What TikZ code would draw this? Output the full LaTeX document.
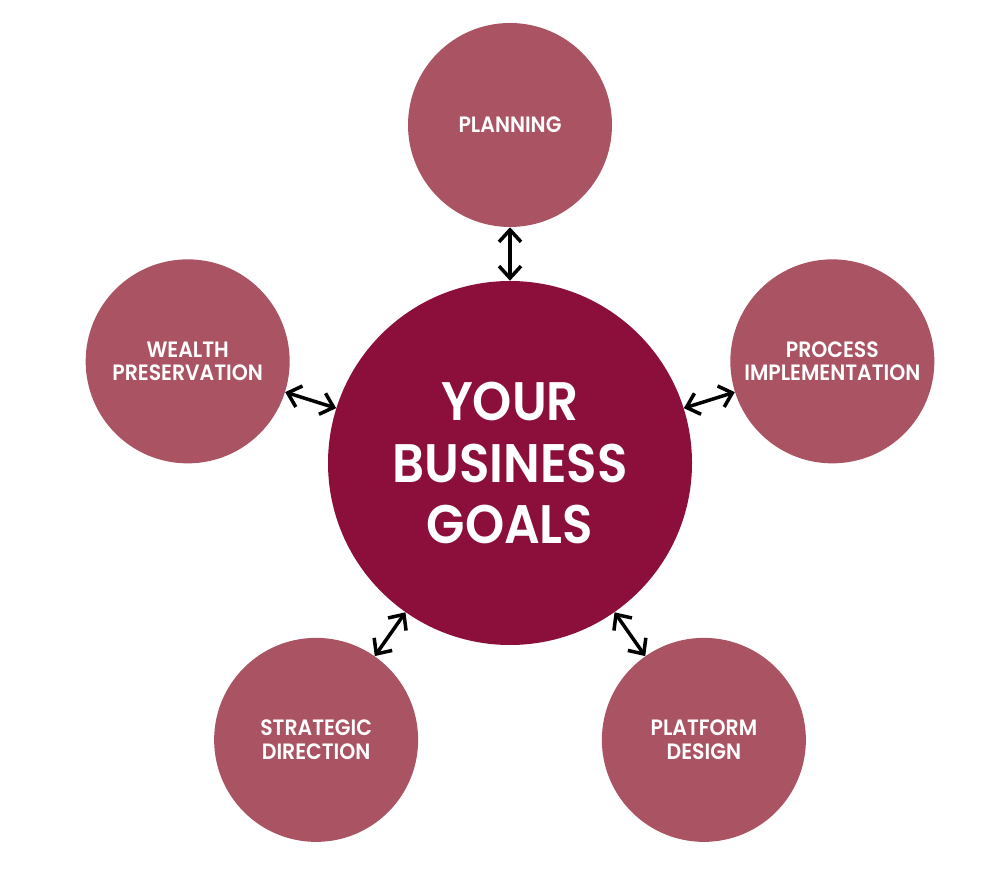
\documentclass[tikz,border=0pt]{standalone}
\usepackage{fontspec}
\setmainfont{Poppins}[BoldFont={* SemiBold},BoldFeatures={FakeStretch=0.92}]
\usetikzlibrary{arrows.meta,calc}
\definecolor{goalred}{RGB}{139,15,58}
\definecolor{areared}{RGB}{170,83,99}

\begin{document}
\begin{tikzpicture}[
		goal/.style={circle,fill=goalred,text=white,minimum size=9.1cm,inner sep=0pt,align=center,font=\fontsize{38.6}{44}\selectfont\bfseries},
		area/.style={circle,fill=areared,text=white,minimum size=5.1cm,inner sep=0pt,align=center,font=\fontsize{15.8}{16.8}\selectfont\bfseries},
		link/.style={line width=2.5pt,{Straight Barb[length=0.3cm,width=0.55cm]}-{Straight Barb[length=0.3cm,width=0.55cm]}}]
	\useasboundingbox (0,0) rectangle (25.125,21.975);
	\node[goal] (goals) at (12.75,10.4) {YOUR\\BUSINESS\\GOALS};
	\foreach \a/\n/\t in {90/planning/{PLANNING},17.5/process/{PROCESS\\IMPLEMENTATION},162.5/wealth/{WEALTH\\PRESERVATION},235/strategic/{STRATEGIC\\DIRECTION},305/platform/{PLATFORM\\DESIGN}}
		\node[area] (\n) at ($(goals)+(\a:8.45)$) {\t};
	\foreach \n in {planning,process,wealth,strategic,platform}
		\draw[link] (goals) -- (\n);
\end{tikzpicture}
\end{document}
